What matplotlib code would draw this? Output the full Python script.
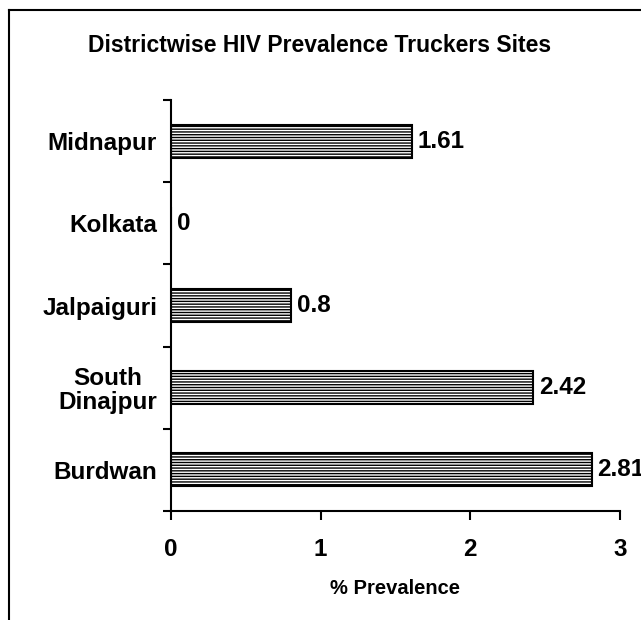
import numpy as np
import matplotlib.pyplot as plt
from matplotlib.lines import Line2D

plt.rcParams['font.family'] = ['Liberation Sans', 'DejaVu Sans']
plt.rcParams['font.weight'] = 'bold'
plt.rcParams['hatch.linewidth'] = 1.0

# data, bottom to top
districts = ['Burdwan', 'South\nDinajpur', 'Jalpaiguri', 'Kolkata', 'Midnapur']
prevalence = [2.81, 2.42, 0.8, 0, 1.61]
xticks = [0, 1, 2, 3]

fig = plt.figure(figsize=(6.41, 6.20), dpi=100)
ax = fig.add_axes([171 / 641, 1 - 511 / 620, (620 - 171) / 641, (511 - 100) / 620])

y = np.arange(len(districts))
ax.barh(y, prevalence, height=0.4, color='white', edgecolor='black',
        linewidth=1.5, hatch='------')

for yi, v in zip(y, prevalence):
    ax.text(v + 0.04, yi, '%g' % v, va='center', ha='left',
            fontsize=17.5, fontweight='bold', clip_on=False)

ax.set_xlim(0, 3)
ax.set_ylim(-0.5, len(districts) - 0.5)
ax.set_xticks(xticks)
ax.set_xticklabels([str(t) for t in xticks], fontsize=17.5, fontweight='bold')
ax.set_yticks(y)
ax.set_yticklabels(districts, fontsize=17.5, fontweight='bold', ha='right',
                   multialignment='center', linespacing=1.05)
ax.set_yticks(np.arange(-0.5, len(districts)), minor=True)

ax.tick_params(axis='y', which='major', length=0, pad=10)
ax.tick_params(axis='y', which='minor', length=6, width=1.5, direction='out')
ax.tick_params(axis='x', which='major', length=6.5, width=1.5, direction='out', pad=13)

ax.spines['top'].set_visible(False)
ax.spines['right'].set_visible(False)
ax.spines['left'].set_linewidth(1.5)
ax.spines['bottom'].set_linewidth(1.5)

ax.set_xlabel('% Prevalence', fontsize=14.5, fontweight='bold', labelpad=13)
fig.text(320 / 641, 1 - 46 / 620, 'Districtwise HIV Prevalence Truckers Sites',
         ha='center', va='center', fontsize=16.5, fontweight='bold')

# outer frame (clipped at right and bottom)
fig.add_artist(Line2D([9 / 641, 9 / 641], [0, 1 - 10 / 620], color='black', lw=1.5))
fig.add_artist(Line2D([9 / 641, 1], [1 - 10 / 620, 1 - 10 / 620], color='black', lw=1.5))

fig.savefig('out.png', dpi=100)
